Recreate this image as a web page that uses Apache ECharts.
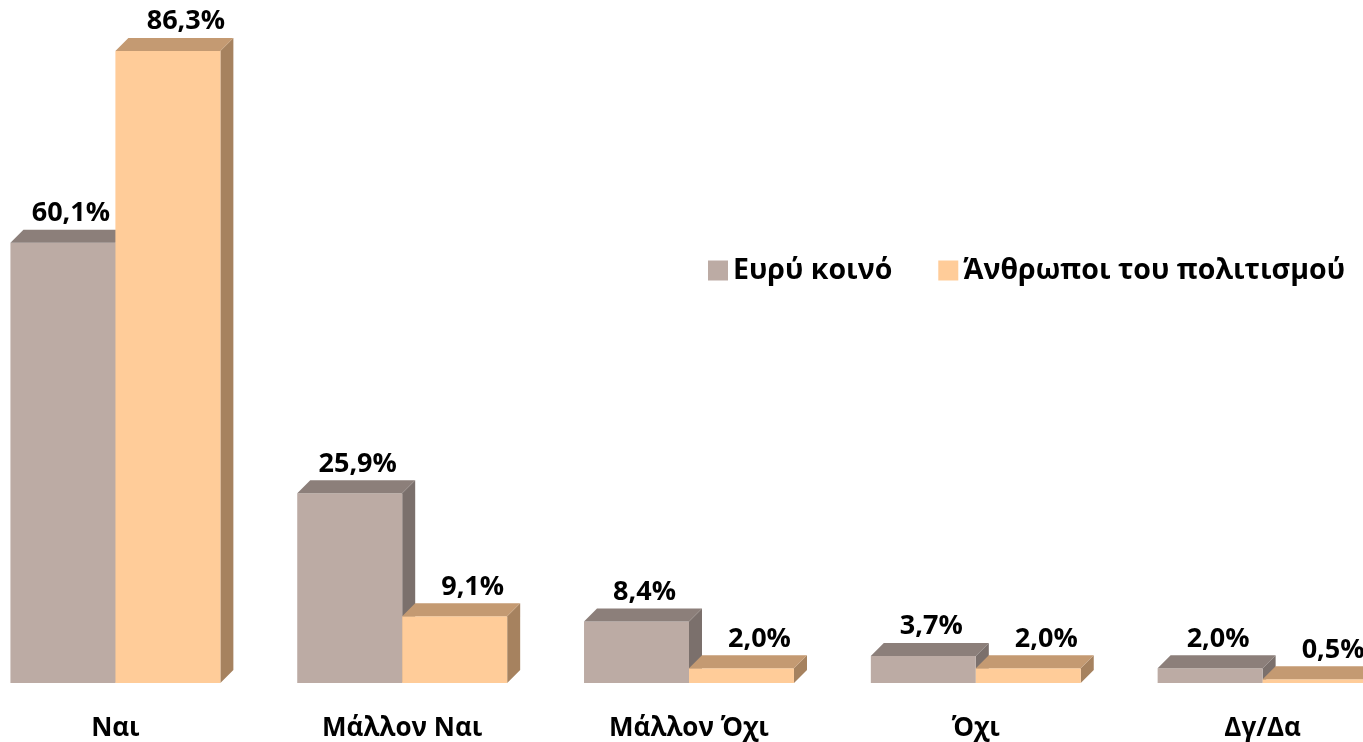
<!DOCTYPE html>
<html>
<head>
<meta charset="UTF-8">
<title>Ναι / Όχι</title>
<script src="https://cdn.jsdelivr.net/npm/echarts@6/dist/echarts.min.js"></script>
<style>
  html, body { margin: 0; padding: 0; background: #fff; overflow: hidden; }
  /* the plot is wider than the window: first and last bars are cut */
  #main { position: absolute; left: -28px; top: 0; width: 1434px; height: 742px; }
</style>
</head>
<body>
<div id="main"></div>
<script type="text/javascript">
// categories and the two groups
var categories = ['Ναι', 'Μάλλον Ναι', 'Μάλλον Όχι', 'Όχι', 'Δγ/Δα'];
var seriesNames = ['Ευρύ κοινό', 'Άνθρωποι του πολιτισμού'];
var publicValues = [60.1, 25.9, 8.4, 3.7, 2.0];
var cultureValues = [86.3, 9.1, 2.0, 2.0, 0.5];

// front / top / side colours of each group
var shades = [
    { front: '#BCABA4', top: '#8C7F7A', side: '#7B706C' },
    { front: '#FFCC99', top: '#C49A72', side: '#A6825F' }
];
var FONT = 'Open Sans';
var DX = 13, DY = 13;          // depth of the fake 3D
var labelShift = [8, 18];      // label offset from front face centre

var myChart = echarts.init(document.getElementById('main'));

function fmt(v) {
    return v.toFixed(1).replace('.', ',') + '%';
}

function makeRender(idx) {
    var c = shades[idx];
    return function (params, api) {
        var cat = api.value(0), val = api.value(1);
        var base = api.coord([cat, 0]);
        var top = api.coord([cat, val]);
        var band = api.size([1, 0])[0];
        var w = band * 0.366;
        var x0 = idx === 0 ? base[0] - w : base[0];
        var x1 = x0 + w;
        var yt = top[1], yb = base[1];
        return {
            type: 'group',
            children: [
                {
                    type: 'polygon',
                    shape: { points: [[x1, yt], [x1 + DX, yt - DY], [x1 + DX, yb - DY], [x1, yb]] },
                    style: { fill: c.side }
                },
                {
                    type: 'rect',
                    shape: { x: x0, y: yt, width: w, height: yb - yt },
                    style: { fill: c.front }
                },
                {
                    type: 'polygon',
                    shape: { points: [[x0, yt], [x0 + DX, yt - DY], [x1 + DX, yt - DY], [x1, yt]] },
                    style: { fill: c.top }
                },
                {
                    type: 'text',
                    x: x0 + w / 2 + labelShift[idx],
                    y: yt - DY - 3,
                    style: {
                        text: fmt(val),
                        fontFamily: FONT,
                        fontWeight: 'bold',
                        fontSize: 27,
                        fill: '#000',
                        align: 'center',
                        verticalAlign: 'bottom'
                    }
                }
            ]
        };
    };
}

function toData(arr) {
    return arr.map(function (v, i) { return [i, v]; });
}

var option = {
    animation: false,
    grid: { left: 0, right: 0, top: 51, bottom: 58, containLabel: false },
    legend: {
        left: 731,
        top: 251,
        icon: 'rect',
        itemWidth: 20,
        itemHeight: 20,
        itemGap: 46,
        textStyle: { fontFamily: FONT, fontWeight: 'bold', fontSize: 28.5, color: '#000' },
        data: seriesNames
    },
    xAxis: {
        type: 'category',
        data: categories,
        axisLine: { show: false },
        axisTick: { show: false },
        axisLabel: {
            margin: 33,
            fontFamily: FONT,
            fontWeight: 'bold',
            fontSize: 26,
            color: '#000'
        }
    },
    yAxis: {
        type: 'value',
        min: 0,
        max: 'dataMax',
        show: false,
        splitLine: { show: false }
    },
    series: [
        {
            name: seriesNames[0],
            type: 'custom',
            renderItem: makeRender(0),
            itemStyle: { color: shades[0].front },
            encode: { x: 0, y: 1 },
            data: toData(publicValues)
        },
        {
            name: seriesNames[1],
            type: 'custom',
            renderItem: makeRender(1),
            itemStyle: { color: shades[1].front },
            encode: { x: 0, y: 1 },
            data: toData(cultureValues)
        }
    ]
};

myChart.setOption(option);
</script>
</body>
</html>
